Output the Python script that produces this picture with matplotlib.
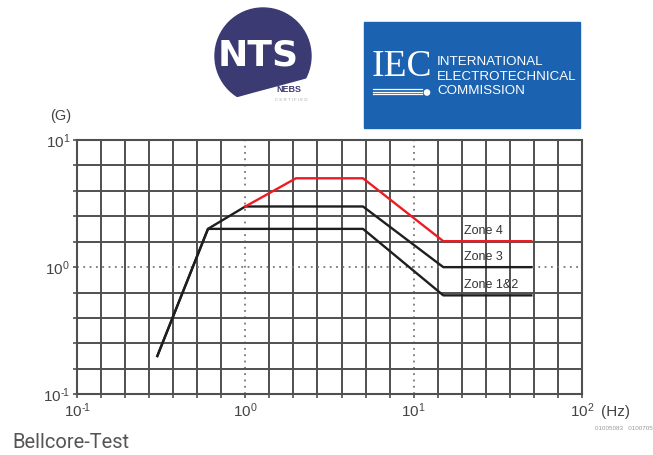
import matplotlib.pyplot as plt
import matplotlib.patches as mpatches
import numpy as np
from matplotlib.ticker import FixedLocator, NullFormatter

plt.rcParams['font.family'] = ['Liberation Sans', 'DejaVu Sans']
plt.rcParams['mathtext.fontset'] = 'custom'
plt.rcParams['mathtext.rm'] = 'Liberation Sans'
plt.rcParams['mathtext.it'] = 'Liberation Sans'

# Bellcore (Telcordia GR-63) seismic response spectrum
zone12_freq = [0.3, 0.6, 5, 15, 50]
zone12_g = [0.2, 2.0, 2.0, 0.6, 0.6]
zone3_freq = [0.3, 0.6, 1.0, 5, 15, 50]
zone3_g = [0.2, 2.0, 3.0, 3.0, 1.0, 1.0]
zone4_freq = [1.0, 2.0, 5, 15, 50]
zone4_g = [3.0, 5.0, 5.0, 1.6, 1.6]
zone_labels = ['Zone 4', 'Zone 3', 'Zone 1&2']
label_freq = 20

x_ticks = [0.1, 1, 10, 100]
x_tick_labels = ['$10^{\u2010\!1}$', r'$10^{0}$', r'$10^{1}$', r'$10^{2}$']
y_ticks = [0.1, 1, 10]
y_tick_labels = ['$10^{\u2010\!1}$', r'$10^{0}$', r'$10^{1}$']

W, H = 653, 455
fig = plt.figure(figsize=(W / 100, H / 100), dpi=100)
ax = fig.add_axes([77 / W, 1 - 394.3 / H, (582 - 77) / W, (394.3 - 140) / H])

grid_col = '#505050'
text_col = '#444444'

ax.set_xscale('log')
ax.set_yscale('log')
ax.set_xlim(0.1, 100)
ax.set_ylim(0.1, 10)

# grid is 7 steps per decade in x, 5 steps per decade in y
x_minor = [10 ** (-1 + k / 7) for k in range(22) if k % 7]
y_minor = [10 ** (-1 + k / 5) for k in range(11) if k % 5]
ax.xaxis.set_major_locator(FixedLocator(x_ticks))
ax.yaxis.set_major_locator(FixedLocator(y_ticks))
ax.xaxis.set_minor_locator(FixedLocator(x_minor))
ax.yaxis.set_minor_locator(FixedLocator(y_minor))
ax.xaxis.set_minor_formatter(NullFormatter())
ax.yaxis.set_minor_formatter(NullFormatter())
ax.set_xticklabels(x_tick_labels)
ax.set_yticklabels(y_tick_labels)

ax.grid(which='minor', color=grid_col, lw=1.4)
ax.grid(which='major', color='#777777', lw=1.3, linestyle=(0, (1, 2.5)))
ax.tick_params(which='both', direction='out', length=3, width=1.2, color=grid_col,
               labelsize=11, labelcolor=text_col, pad=2)
for s in ax.spines.values():
    s.set_color(grid_col)
    s.set_linewidth(1.5)

ax.plot(zone12_freq, zone12_g, color='#1e1e1e', lw=1.7, zorder=3)
ax.plot(zone3_freq, zone3_g, color='#1e1e1e', lw=1.7, zorder=3)
ax.plot(zone4_freq, zone4_g, color='#ec1c24', lw=1.7, zorder=4)

for lab, g in zip(zone_labels, [zone4_g[-1], zone3_g[-1], zone12_g[-1]]):
    ax.annotate(lab, (label_freq, g), xytext=(0, 3), textcoords='offset points',
                ha='left', va='bottom', fontsize=9, color='#333333')

# overlay in pixel coordinates for logos and loose labels
ov = fig.add_axes([0, 0, 1, 1], zorder=-1)
ov.set_xlim(0, W)
ov.set_ylim(H, 0)
ov.axis('off')

ov.text(50, 116, '(G)', fontsize=10.5, color=text_col, va='center')
ov.text(601, 412, '(Hz)', fontsize=11, color=text_col, va='center')
ov.text(653, 429, '01005083   0100705', fontsize=4.5, color='#999999', ha='right', va='center')
ov.text(12, 443, 'Bellcore-Test', fontsize=14.5, color='#555555', va='center', family='Roboto')

# NTS logo
ov.add_patch(mpatches.Circle((263, 56), 48, color='#3c3a72'))
ov.add_patch(mpatches.Polygon([(226, 101), (255, 93), (285, 85), (318, 76), (330, 76),
                               (330, 112), (226, 112)], color='white'))
ov.text(258, 56, 'NTS', fontsize=26, fontweight='bold', color='white', ha='center',
        va='center', family='DejaVu Sans')
ov.text(289, 89, 'NEBS', fontsize=6.5, fontweight='bold', color='#3c3a72',
        ha='center', va='center')
ov.text(291, 100, 'C E R T I F I E D', fontsize=3.2, color='#aaaaaa', ha='center', va='center')

# IEC logo
ov.add_patch(mpatches.Rectangle((364, 22), 216, 106, color='#1b62b0'))
ov.text(372, 67, 'IEC', fontsize=27, color='white', ha='left', va='center',
        family='Liberation Serif')
for yy in [89, 91.5, 94]:
    ov.plot([373, 422], [yy, yy], color='white', lw=0.9)
ov.add_patch(mpatches.Circle((427, 92.5), 2.6, color='white'))
for i, line in enumerate(['INTERNATIONAL', 'ELECTROTECHNICAL', 'COMMISSION']):
    ov.text(437, 62 + i * 14.5, line, fontsize=9.6, color='white', ha='left', va='center')

fig.savefig('out.png', dpi=100)
